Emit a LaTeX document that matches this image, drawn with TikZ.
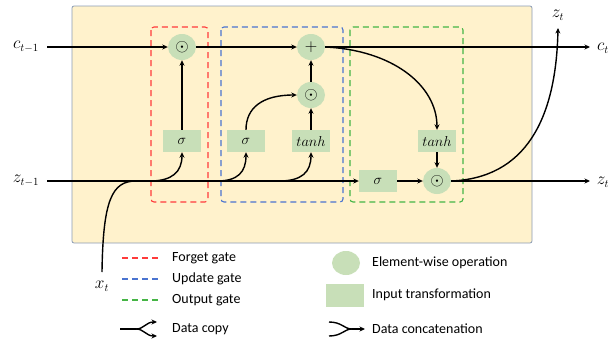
\documentclass[tikz,border=0pt]{standalone}
\usepackage{fontspec}
\setmainfont{Carlito}
\usetikzlibrary{arrows.meta,shapes.geometric}
\definecolor{cellbg}{HTML}{FFF2CC}
\definecolor{cellborder}{HTML}{8A9BB5}
\definecolor{opfill}{HTML}{C8DFB8}
\definecolor{forgetc}{HTML}{FF3B3B}
\definecolor{updatec}{HTML}{4A74D0}
\definecolor{outputc}{HTML}{45B545}
\tikzset{
  wire/.style={line width=1.4pt},
  flow/.style={wire,-{Stealth[length=5.5pt,width=5pt]}},
  opnode/.style={ellipse,fill=opfill,minimum width=28pt,minimum height=26pt,inner sep=0pt,font=\fontsize{18}{18}\selectfont},
  tfnode/.style={rectangle,fill=opfill,minimum width=38pt,minimum height=22pt,inner sep=0pt,font=\fontsize{15.5}{15.5}\selectfont},
  gatebox/.style={dashed,dash pattern=on 6pt off 4pt,line width=1.1pt,rounded corners=3pt},
  varlabel/.style={font=\fontsize{16}{16}\selectfont,inner sep=1pt},
  legtext/.style={anchor=west,font=\fontsize{14}{16}\selectfont,inner sep=0pt},
}
\begin{document}
\begin{tikzpicture}[x=1pt,y=-1pt]
\useasboundingbox (0,0) rectangle (610,338);

% cell background
\draw[fill=cellbg,draw=cellborder,line width=0.8pt,rounded corners=2pt] (72,6) rectangle (532,243);

% gate regions
\draw[gatebox,draw=forgetc] (151,27) rectangle (208,202);
\draw[gatebox,draw=updatec] (221,27) rectangle (343,202);
\draw[gatebox,draw=outputc] (350,27) rectangle (463,202);

% element-wise operations
\node[opnode] (f1) at (182,47) {$\odot$};
\node[opnode] (plus) at (311,47) {$+$};
\node[opnode] (m1) at (311,95) {$\odot$};
\node[opnode] (o1) at (437,181) {$\odot$};

% input transformations
\node[tfnode] (sf) at (182,141) {$\sigma$};
\node[tfnode] (su) at (246,141) {$\sigma$};
\node[tfnode] (tu) at (311,141) {$tanh$};
\node[tfnode] (to) at (437,141) {$tanh$};
\node[tfnode] (so) at (378,181) {$\sigma$};

% variable labels
\node[varlabel] (cin) at (26,47) {$c_{t-1}$};
\node[varlabel] (zin) at (26,181) {$z_{t-1}$};
\node[varlabel] (cout) at (603,48) {$c_t$};
\node[varlabel] (zout) at (603,182) {$z_t$};
\node[varlabel] (ztop) at (558,15) {$z_t$};
\node[varlabel] (xt) at (102,286) {$x_t$};

% free wire ends
\coordinate (cs) at (47,47);
\coordinate (ce) at (590,47);
\coordinate (zs) at (47,181);
\coordinate (ze) at (590,181);
\coordinate (zup) at (558,28);
\coordinate (xb) at (102,272);
\coordinate (xj) at (136,181);
\coordinate (bf) at (150,181);
\coordinate (bu) at (217,181);
\coordinate (bt) at (279,181);

% cell state path
\draw[flow] (cs) -- (f1.west);
\draw[flow] (f1.east) -- (plus.west);
\draw[flow] (plus.east) -- (ce);

% hidden state path
\draw[flow] (zs) -- (so.west);
\draw[flow] (so.east) -- (o1.west);
\draw[flow] (o1.east) -- (ze);
\draw[flow] (o1.east) .. controls (525,178) and (556,120) .. (zup);

% input joins the hidden state
\draw[wire] (xb) .. controls (103,200) and (112,181) .. (xj);

% copies of the concatenated input
\draw[flow] (bf) .. controls (172,181) and (182,172) .. (sf.south);
\draw[flow] (bu) .. controls (238,181) and (246,172) .. (su.south);
\draw[flow] (bt) .. controls (302,181) and (311,172) .. (tu.south);

% gate internals
\draw[flow] (sf.north) -- (f1.south);
\draw[flow] (su.north) .. controls (246,108) and (262,95) .. (m1.west);
\draw[flow] (tu.north) -- (m1.south);
\draw[flow] (m1.north) -- (plus.south);
\draw[flow] (plus.east) .. controls (392,50) and (437,85) .. (to.north);
\draw[flow] (to.south) -- (o1.north);

% legend: gates
\draw[gatebox,draw=forgetc] (122,258) coordinate (lf1) -- (158,258) coordinate (lf2);
\draw[gatebox,draw=updatec] (122,279) coordinate (lu1) -- (158,279) coordinate (lu2);
\draw[gatebox,draw=outputc] (122,300) coordinate (lo1) -- (158,300) coordinate (lo2);
\node[legtext] (tf) at (172,258) {Forget gate};
\node[legtext] (tup) at (172,279) {Update gate};
\node[legtext] (tog) at (172,300) {Output gate};

% legend: data copy
\coordinate (dc0) at (120,329);
\coordinate (dc1) at (136,329);
\coordinate (dcu) at (157,322);
\coordinate (dcd) at (157,336);
\draw[wire] (dc0) -- (dc1);
\draw[flow] (dc1) .. controls (144,329) and (146,322) .. (dcu);
\draw[flow] (dc1) .. controls (144,329) and (146,336) .. (dcd);
\node[legtext] (tdc) at (172,329) {Data copy};

% legend: shapes
\node[ellipse,fill=opfill,minimum width=28pt,minimum height=24pt] (le) at (346,263) {};
\node[rectangle,fill=opfill,minimum width=38pt,minimum height=23pt,inner sep=0pt] (lr) at (345,295) {};
\node[legtext] (tel) at (372,263) {Element-wise operation};
\node[legtext] (tit) at (372,295) {Input transformation};

% legend: data concatenation
\coordinate (cc1) at (329,322);
\coordinate (cc2) at (329,336);
\coordinate (ccm) at (352,329);
\coordinate (cce) at (365,329);
\draw[wire] (cc1) .. controls (342,322) and (344,329) .. (ccm);
\draw[wire] (cc2) .. controls (342,336) and (344,329) .. (ccm);
\draw[flow] (ccm) -- (cce);
\node[legtext] (tcc) at (372,329) {Data concatenation};
\end{tikzpicture}
\end{document}
